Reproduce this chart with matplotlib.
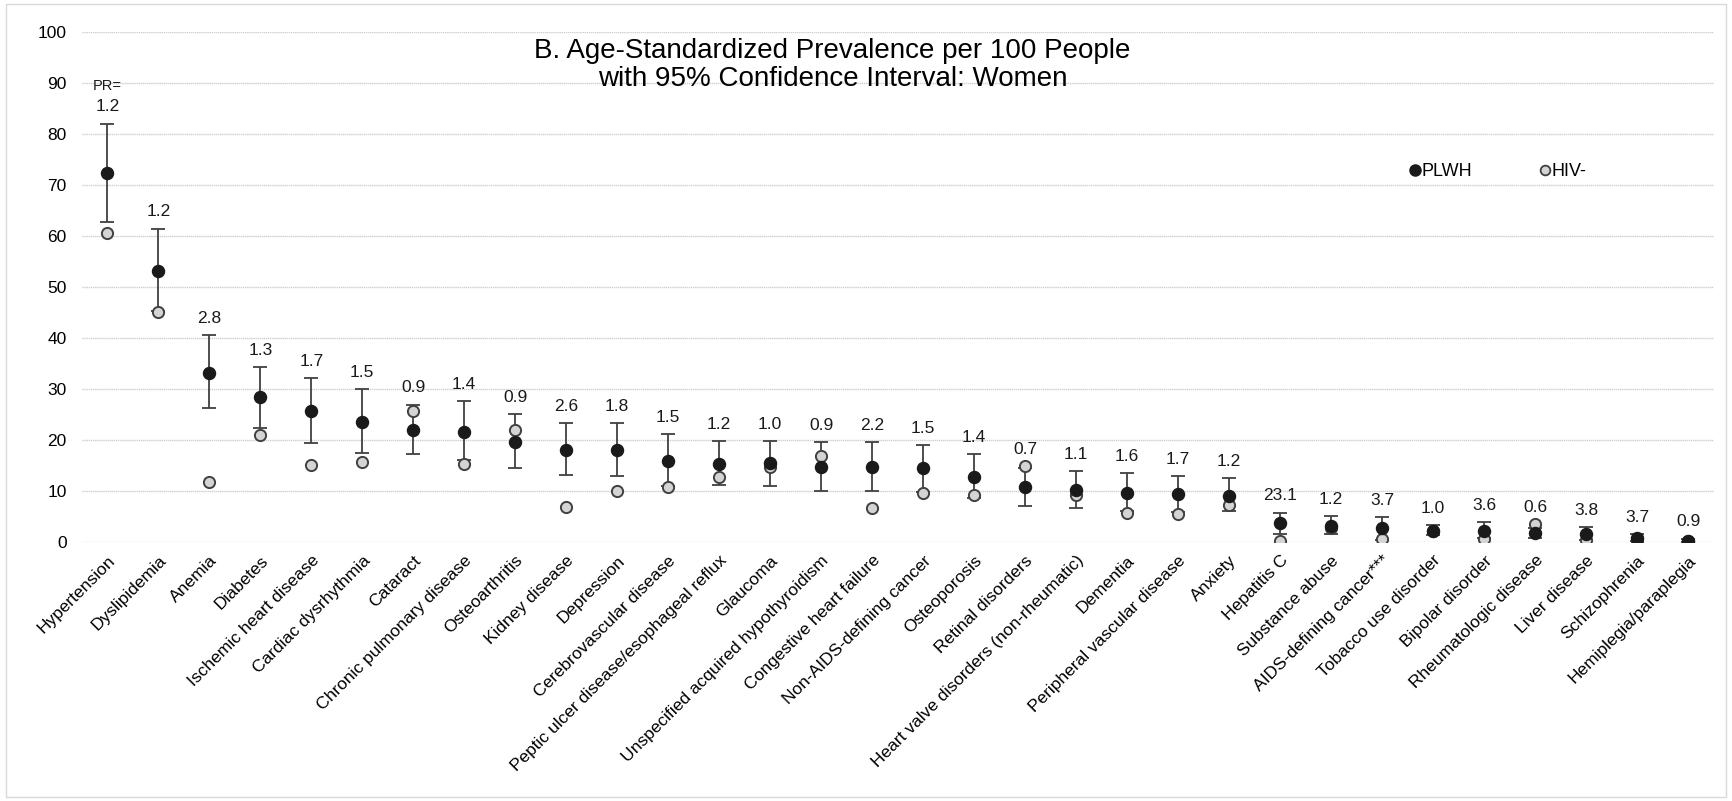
import matplotlib
matplotlib.use("Agg")
import matplotlib.pyplot as plt
import matplotlib.transforms as mtrans
from matplotlib.lines import Line2D
from matplotlib.patches import Rectangle

plt.rcParams["font.family"] = ["Liberation Sans", "DejaVu Sans"]

# ---------------------------------------------------------------------------
# Data
# ---------------------------------------------------------------------------

categories = [
    "Hypertension", "Dyslipidemia", "Anemia", "Diabetes", "Ischemic heart disease",
    "Cardiac dysrhythmia", "Cataract", "Chronic pulmonary disease", "Osteoarthritis",
    "Kidney disease", "Depression", "Cerebrovascular disease",
    "Peptic ulcer disease/esophageal reflux", "Glaucoma",
    "Unspecified acquired hypothyroidism", "Congestive heart failure",
    "Non-AIDS-defining cancer", "Osteoporosis", "Retinal disorders",
    "Heart valve disorders (non-rheumatic)", "Dementia", "Peripheral vascular disease",
    "Anxiety", "Hepatitis C", "Substance abuse", "AIDS-defining cancer***",
    "Tobacco use disorder", "Bipolar disorder", "Rheumatologic disease",
    "Liver disease", "Schizophrenia", "Hemiplegia/paraplegia",
]

plwh = [72.2, 53.1, 33.1, 28.3, 25.6, 23.5, 22.0, 21.6, 19.5, 18.0, 18.0, 15.9,
        15.3, 15.4, 14.6, 14.6, 14.4, 12.6, 10.7, 10.1, 9.6, 9.3, 9.0, 3.6, 3.1,
        2.6, 2.1, 2.1, 1.8, 1.5, 0.8, 0.2]
ci_low = [62.6, 45.3, 26.3, 22.3, 19.3, 17.3, 17.2, 16.1, 14.5, 13.0, 12.9, 10.9,
          11.1, 10.9, 9.9, 9.9, 9.8, 8.5, 7.0, 6.6, 6.0, 5.8, 6.0, 1.5, 1.5,
          0.3, 1.3, 0.7, 0.7, 0.3, 0.1, 0.0]
ci_high = [82.0, 61.4, 40.5, 34.2, 32.1, 29.9, 26.9, 27.5, 25.1, 23.2, 23.2, 21.1,
           19.8, 19.8, 19.6, 19.6, 18.9, 17.1, 14.5, 13.9, 13.5, 12.9, 12.4, 5.7, 5.1,
           4.9, 3.3, 3.8, 2.6, 2.9, 1.5, 0.6]
hiv_neg = [60.6, 45.0, 11.7, 21.0, 15.0, 15.7, 25.6, 15.3, 22.0, 6.9, 9.9, 10.7,
           12.6, 14.6, 16.8, 6.6, 9.6, 9.2, 14.8, 9.2, 5.7, 5.4, 7.2, 0.1, 2.7,
           0.5, 2.1, 0.5, 3.4, 0.3, 0.1, 0.2]
pr_labels = ["1.2", "1.2", "2.8", "1.3", "1.7", "1.5", "0.9", "1.4", "0.9", "2.6",
             "1.8", "1.5", "1.2", "1.0", "0.9", "2.2", "1.5", "1.4", "0.7", "1.1",
             "1.6", "1.7", "1.2", "23.1", "1.2", "3.7", "1.0", "3.6", "0.6", "3.8",
             "3.7", "0.9"]

y_ticks = list(range(0, 101, 10))

# ---------------------------------------------------------------------------
# Plot
# ---------------------------------------------------------------------------

W, H = 1732, 801
fig = plt.figure(figsize=(W / 100, H / 100), dpi=100)
ax = fig.add_axes([81.8 / W, 1 - 541.7 / H, 1631.7 / W, 510 / H])

x = list(range(len(categories)))
yerr = [[p - lo for p, lo in zip(plwh, ci_low)],
        [hi - p for p, hi in zip(plwh, ci_high)]]

ax.errorbar(x, plwh, yerr=yerr, fmt="none", ecolor="#404040", elinewidth=1.3,
            capsize=5, capthick=1.3, zorder=2)
ax.scatter(x, hiv_neg, s=65, facecolor="#d4d4d4", edgecolor="#404040",
           linewidth=1.4, zorder=3)
ax.scatter(x, plwh, s=75, color="#1a1a1a", zorder=4)

for i, lab in enumerate(pr_labels):
    top = max(ci_high[i], hiv_neg[i])
    ax.annotate(lab, (i, top), xytext=(0, 12), textcoords="offset points",
                ha="center", va="center", fontsize=12.5, color="#1a1a1a")
ax.annotate("PR=", (0, ci_high[0]), xytext=(0, 27), textcoords="offset points",
            ha="center", va="center", fontsize=10.5, color="#1a1a1a")

ax.set_xlim(-0.5, len(categories) - 0.5)
ax.set_ylim(0, 100)
ax.set_yticks(y_ticks)
ax.set_xticks(x)
ax.set_xticklabels(categories, rotation=45, ha="right", rotation_mode="anchor",
                   fontsize=12.5)
# nudge the slanted labels a little left so they end under their category
shift = mtrans.ScaledTranslation(-5 / 100, 0, fig.dpi_scale_trans)
for lbl in ax.get_xticklabels():
    lbl.set_transform(lbl.get_transform() + shift)
ax.tick_params(axis="y", length=0, labelsize=12.5, pad=11)
ax.tick_params(axis="x", length=0, pad=8)
ax.grid(axis="y", color="#d0d0d0", linewidth=1.0, linestyle=(0, (1, 0.5)))
ax.set_axisbelow(True)
for s in ax.spines.values():
    s.set_visible(False)

ax.text(0.46, 0.935, "B. Age-Standardized Prevalence per 100 People\n"
        "with 95% Confidence Interval: Women", transform=ax.transAxes,
        ha="center", va="center", fontsize=20, linespacing=1.12)

handles = [
    Line2D([], [], linestyle="none", marker="o", markersize=8, color="#1a1a1a"),
    Line2D([], [], linestyle="none", marker="o", markersize=7,
           markerfacecolor="#d4d4d4", markeredgecolor="#404040", markeredgewidth=1.3),
]
ax.legend(handles, ["PLWH", "HIV-"], loc="center", bbox_to_anchor=(0.868, 0.7255),
          ncol=2, frameon=False, handlelength=0.5, handletextpad=0.1,
          columnspacing=3.8, fontsize=13)

fig.patches.append(Rectangle((6 / W, 4 / H), 1 - 12 / W, 1 - 8 / H,
                             transform=fig.transFigure, fill=False,
                             edgecolor="#d9d9d9", linewidth=1.0))

fig.savefig("out.png", dpi=100)
